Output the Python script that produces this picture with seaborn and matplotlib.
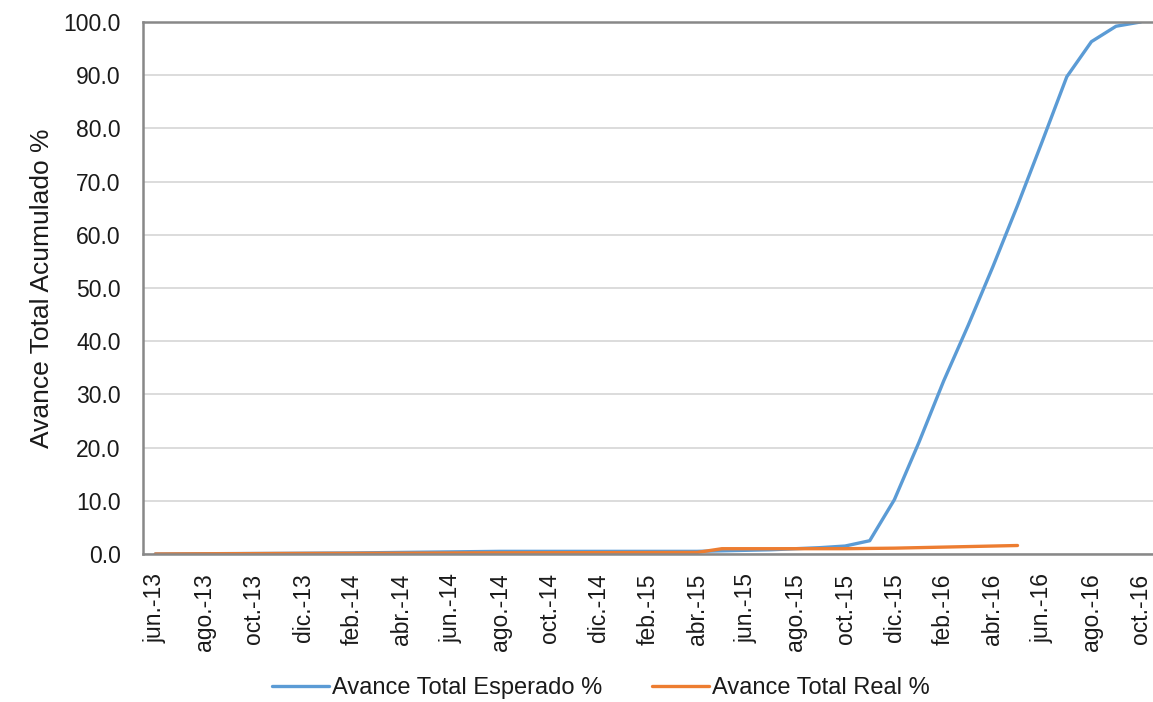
import numpy as np
import pandas as pd
import matplotlib
matplotlib.use("Agg")
import matplotlib.pyplot as plt
import seaborn as sns

# Monthly categories, jun-13 .. oct-16
months = ["jun.-13", "jul.-13", "ago.-13", "sep.-13", "oct.-13", "nov.-13", "dic.-13",
          "ene.-14", "feb.-14", "mar.-14", "abr.-14", "may.-14", "jun.-14", "jul.-14",
          "ago.-14", "sep.-14", "oct.-14", "nov.-14", "dic.-14", "ene.-15", "feb.-15",
          "mar.-15", "abr.-15", "may.-15", "jun.-15", "jul.-15", "ago.-15", "sep.-15",
          "oct.-15", "nov.-15", "dic.-15", "ene.-16", "feb.-16", "mar.-16", "abr.-16",
          "may.-16", "jun.-16", "jul.-16", "ago.-16", "sep.-16", "oct.-16"]

esperado = [0.0, 0.02, 0.05, 0.08, 0.10, 0.12, 0.15, 0.18, 0.20, 0.25, 0.30, 0.35, 0.40, 0.45,
            0.50, 0.50, 0.50, 0.50, 0.50, 0.50, 0.50, 0.50, 0.50, 0.60, 0.70, 0.80, 1.00, 1.20,
            1.50, 2.50, 10.2, 21.0, 32.5, 43.0, 54.0, 65.5, 77.5, 89.7, 96.3, 99.2, 100.0]

real = [0.0, 0.02, 0.04, 0.06, 0.08, 0.10, 0.11, 0.12, 0.13, 0.14, 0.15, 0.17, 0.19, 0.21,
        0.22, 0.23, 0.24, 0.25, 0.26, 0.27, 0.28, 0.29, 0.30, 1.00, 1.00, 1.00, 1.00, 1.00,
        1.00, 1.05, 1.10, 1.20, 1.30, 1.40, 1.50, 1.60]

series_names = ["Avance Total Esperado %", "Avance Total Real %"]
colors = ["#5B9BD5", "#ED7D31"]

df = pd.concat([
    pd.DataFrame({"idx": np.arange(len(esperado)), "valor": esperado, "serie": series_names[0]}),
    pd.DataFrame({"idx": np.arange(len(real)), "valor": real, "serie": series_names[1]}),
], ignore_index=True)

sns.set_theme(style="white")
plt.rcParams["font.family"] = ["Liberation Sans", "DejaVu Sans"]

fig = plt.figure(figsize=(11.53, 7.02), dpi=100)
ax = fig.add_axes([0.124, 0.2108, 0.876, 0.7579])

sns.lineplot(data=df, x="idx", y="valor", hue="serie", hue_order=series_names,
             palette=colors, linewidth=2.4, ax=ax, legend=True, sort=True)

n = len(months)
ax.set_xlim(-0.5, n - 0.5)
ax.set_ylim(0, 100)

text_color = "#1a1a1a"

# y axis
ax.set_yticks(np.arange(0, 101, 10))
ax.set_yticklabels([f"{v:.1f}" for v in np.arange(0, 101, 10)], fontsize=16.5, color=text_color)
ax.tick_params(axis="y", length=0, pad=16)
ax.yaxis.grid(True, color="#d9d9d9", linewidth=1.3)
ax.set_axisbelow(True)
ax.set_ylabel("Avance Total Acumulado %", fontsize=19, color=text_color, labelpad=7)

# x axis: tick marks between categories, labels at category centres
ax.set_xticks(np.arange(-0.5, n, 2))
ax.set_xticklabels([])
ax.tick_params(axis="x", which="major", length=6, width=1.3, color="#888888", direction="out")
ax.set_xticks(np.arange(0, n, 2), minor=True)
ax.set_xticklabels(months[::2], minor=True, rotation=90, fontsize=16.5, color=text_color)
ax.tick_params(axis="x", which="minor", length=0, pad=14)
ax.set_xlabel("")

for side in ["left", "bottom", "top"]:
    ax.spines[side].set_visible(True)
    ax.spines[side].set_color("#888888")
    ax.spines[side].set_linewidth(1.8)
ax.spines["right"].set_visible(False)

handles, labels = ax.get_legend_handles_labels()
leg = ax.legend(handles, labels, loc="center", ncol=2, frameon=False, fontsize=17,
                handlelength=2.4, handletextpad=0.15, columnspacing=2.1)
for t in leg.get_texts():
    t.set_color(text_color)
leg.set_bbox_to_anchor((601 / 1153, 1 - 688 / 702), transform=fig.transFigure)

fig.savefig("out.png", dpi=100)
